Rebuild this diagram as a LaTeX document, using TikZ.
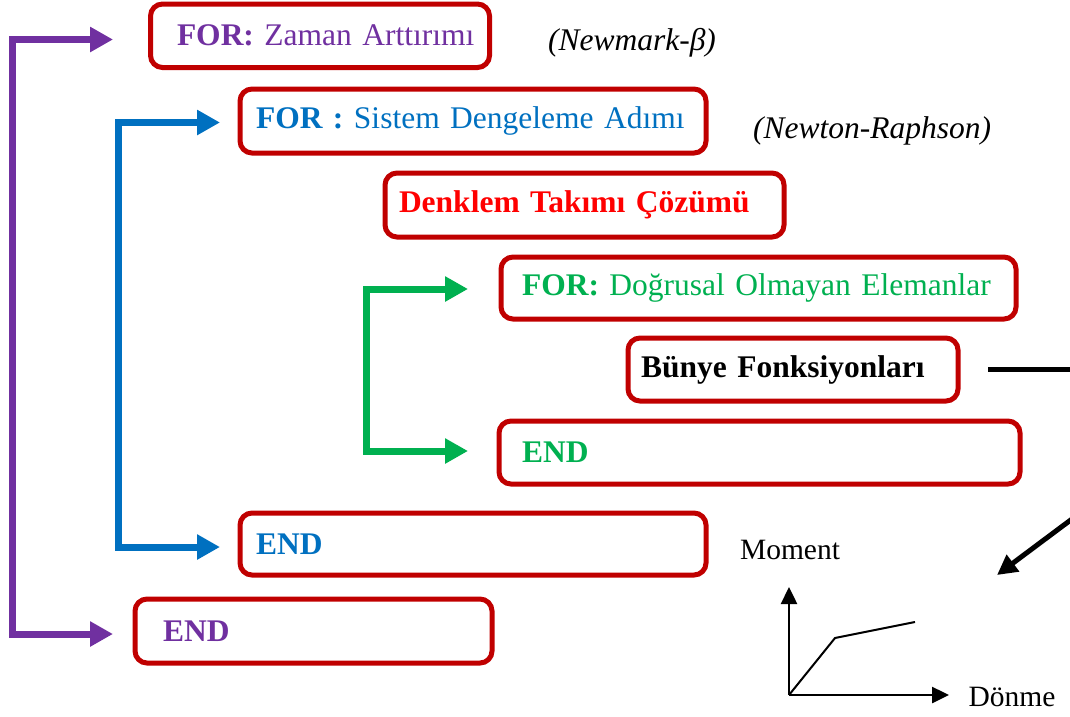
\documentclass[tikz,border=0pt]{standalone}
\usepackage{fontspec}
\setmainfont{Liberation Serif}
\usetikzlibrary{arrows.meta}
\definecolor{boxred}{HTML}{C00000}
\definecolor{cpurple}{HTML}{7030A0}
\definecolor{cblue}{HTML}{0070C0}
\definecolor{cgreen}{HTML}{00B050}
\definecolor{cred}{HTML}{FF0000}
\tikzset{
  box/.style={draw=boxred, line width=5pt, rounded corners=12pt, anchor=north west,
    outer sep=0pt, inner ysep=0pt, align=left, font=\fontsize{31.5}{36}\selectfont},
  label/.style={font=\fontsize{31.5}{36}\selectfont\itshape, inner sep=0pt},
  axlabel/.style={font=\fontsize{29.5}{34}\selectfont, inner sep=0pt},
  bracket/.style={line width=7pt, line join=miter,
    {Triangle[length=23pt,width=24pt]}-{Triangle[length=23pt,width=24pt]}},
  blackarrow/.style={line width=5pt, -{Triangle[length=20pt,width=20pt]}},
  axis/.style={line width=2.5pt, -{Triangle[length=17pt,width=16pt]}},
}
\begin{document}
\begin{tikzpicture}[x=1pt,y=-1pt]
\useasboundingbox (0,0) rectangle (1070,716);
% boxes
\node[box, text width=286pt, inner xsep=26.5pt, minimum height=63.5pt] (b1) at (150.5,4)
  {\mbox{\color{cpurple}\textbf{FOR:} Zaman Arttırımı}};
\node[box, text width=434pt, inner xsep=16pt, minimum height=64pt] (b2) at (240,89)
  {\mbox{\color{cblue}\textbf{FOR :} Sistem Dengeleme Adımı}};
\node[box, text width=371pt, inner xsep=14pt, minimum height=64pt] (b3) at (385,173)
  {\mbox{\color{cred}\textbf{Denklem Takımı Çözümü}}};
\node[box, text width=473pt, inner xsep=21pt, minimum height=62pt] (b4) at (501,257)
  {\mbox{\color{cgreen}\textbf{FOR:} Doğrusal Olmayan Elemanlar}};
\node[box, text width=304pt, inner xsep=13pt, minimum height=63pt] (b5) at (628,338)
  {\mbox{\textbf{Bünye Fonksiyonları}}};
\node[box, text width=475pt, inner xsep=23pt, minimum height=63pt] (b6) at (499,421)
  {\mbox{\color{cgreen}\textbf{END}}};
\node[box, text width=434pt, inner xsep=16pt, minimum height=62pt] (b7) at (240,513)
  {\mbox{\color{cblue}\textbf{END}}};
\node[box, text width=301pt, inner xsep=28pt, minimum height=64pt] (b8) at (135,599)
  {\mbox{\color{cpurple}\textbf{END}}};
% labels
\node[label] (nm) at (632,43) {(Newmark-β)};
\node[label] (nr) at (872,131) {(Newton-Raphson)};
% loop brackets
\coordinate (p1) at (113,39.5);
\coordinate (p2) at (113,634);
\coordinate (pv) at (12,634);
\draw[bracket, cpurple] (p1) -| (pv) |- (p2);
\coordinate (q1) at (220,122.5);
\coordinate (q2) at (220,547);
\coordinate (qv) at (118.5,547);
\draw[bracket, cblue] (q1) -| (qv) |- (q2);
\coordinate (g1) at (468,289);
\coordinate (g2) at (468,451);
\coordinate (gv) at (366.5,451);
\draw[bracket, cgreen] (g1) -| (gv) |- (g2);
% constitutive link
\coordinate (be) at (1072,369.5);
\draw[line width=5pt, shorten <=30pt] (b5.east) -- (be);
\coordinate (as) at (1072,519);
\coordinate (ae) at (997,575);
\draw[blackarrow] (as) -- (ae);
% graph
\coordinate (o) at (789,695);
\coordinate (yt) at (789,587);
\coordinate (xt) at (949,695);
\coordinate (k) at (835,638);
\coordinate (c) at (915,622);
\draw[axis] (o) -- (yt);
\draw[axis] (o) -- (xt);
\draw[line width=2pt] (o) -- (k) -- (c);
\node[axlabel] (mom) at (790,550) {Moment};
\node[axlabel] (don) at (1012,697) {Dönme};
\end{tikzpicture}
\end{document}
